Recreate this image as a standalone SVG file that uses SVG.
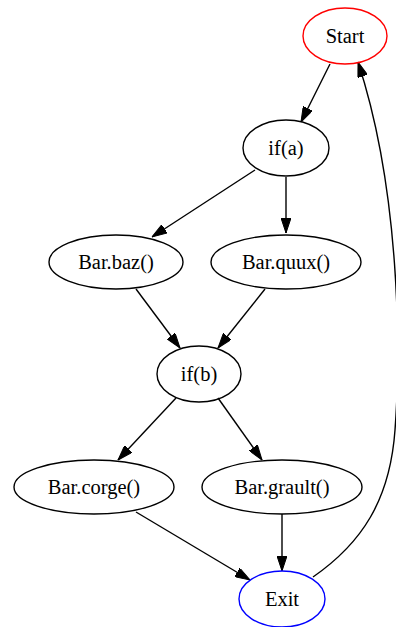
<svg xmlns="http://www.w3.org/2000/svg" width="396" height="627" viewBox="0 0 396 627">
<style>
.n ellipse{fill:none;stroke:#000;stroke-width:1.4}
.n text{font-family:"Liberation Serif","Times New Roman",serif;font-size:20.5px;text-anchor:middle;fill:#000}
.e path{fill:none;stroke:#000;stroke-width:1.4;marker-end:url(#ah)}
</style>
<defs>
<marker id="ah" viewBox="0 0 15 10" refX="15" refY="5" markerWidth="15" markerHeight="10" markerUnits="userSpaceOnUse" orient="auto">
<path d="M0,0 L15,5 L0,10 z" fill="#000" stroke="#000" stroke-width="1"/>
</marker>
</defs>
<rect width="396" height="627" fill="#fff"/>
<g id="edges" class="e">
<path d="M330,64 L301,122"/>
<path d="M255,170 L152,237"/>
<path d="M286,177 L286,233"/>
<path d="M136,289 L180,348"/>
<path d="M265,289 L218,348"/>
<path d="M176,398 L118,460"/>
<path d="M218,398 L262,460"/>
<path d="M136,512 L250,580"/>
<path d="M282,514 L282,571"/>
<path d="M313,577 C362,543 390,500 395,430 C401,350 400,190 358,62"/>
</g>
<g id="start" class="n"><ellipse cx="345" cy="36" rx="42" ry="28" style="stroke:#f00"/><text x="345" y="43">Start</text></g>
<g id="ifa" class="n"><ellipse cx="286" cy="148" rx="43" ry="28"/><text x="286" y="155">if(a)</text></g>
<g id="baz" class="n"><ellipse cx="116" cy="262" rx="67" ry="27"/><text x="116" y="269">Bar.baz()</text></g>
<g id="quux" class="n"><ellipse cx="286" cy="262" rx="75" ry="27"/><text x="286" y="269">Bar.quux()</text></g>
<g id="ifb" class="n"><ellipse cx="199" cy="374" rx="42" ry="28"/><text x="199" y="381">if(b)</text></g>
<g id="corge" class="n"><ellipse cx="94" cy="487" rx="80" ry="27"/><text x="94" y="494">Bar.corge()</text></g>
<g id="grault" class="n"><ellipse cx="282" cy="487" rx="80" ry="27"/><text x="282" y="494">Bar.grault()</text></g>
<g id="exit" class="n"><ellipse cx="282" cy="599" rx="43" ry="28" style="stroke:#00f"/><text x="282" y="606">Exit</text></g>
</svg>
